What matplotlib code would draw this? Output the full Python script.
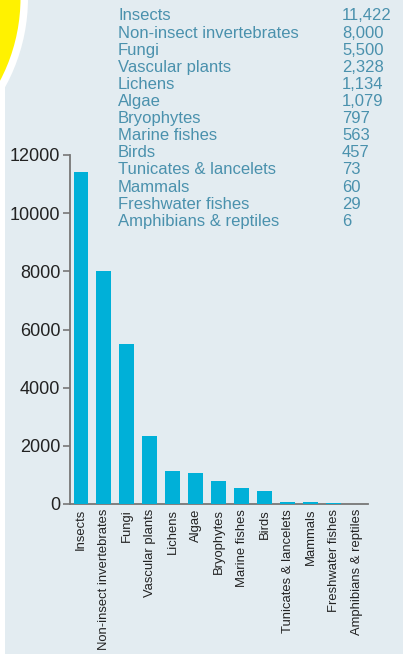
import matplotlib.pyplot as plt
from matplotlib.patches import Rectangle, Circle

# species counts
groups = ["Insects", "Non-insect invertebrates", "Fungi", "Vascular plants",
          "Lichens", "Algae", "Bryophytes", "Marine fishes", "Birds",
          "Tunicates & lancelets", "Mammals", "Freshwater fishes",
          "Amphibians & reptiles"]
counts = [11422, 8000, 5500, 2328, 1134, 1079, 797, 563, 457, 73, 60, 29, 6]
count_labels = ["11,422", "8,000", "5,500", "2,328", "1,134", "1,079", "797",
                "563", "457", "73", "60", "29", "6"]
yticks = [0, 2000, 4000, 6000, 8000, 10000, 12000]

W, H = 403, 655
panel_col = "#e3ecf1"
bar_col = "#00b0d8"
text_col = "#4a91ad"
font = "Liberation Sans"

fig = plt.figure(figsize=(W / 100, H / 100), dpi=100)
fig.patch.set_facecolor("white")

# background in pixel coords
bg = fig.add_axes([0, 0, 1, 1])
bg.set_xlim(0, W)
bg.set_ylim(H, 0)
bg.axis("off")
bg.add_patch(Rectangle((5, 0), W - 5, 654, color=panel_col, lw=0))
bg.add_patch(Circle((-157, -2), 185, color="white", lw=0))
bg.add_patch(Circle((-157, -2), 177.5, color="#fff200", lw=0))

# listing at top right
for i in range(len(groups)):
    y = 20.5 + i * 17.1
    bg.text(118, y, groups[i], color=text_col, fontsize=12,
            family=font, va="baseline")
    bg.text(342, y, count_labels[i], color=text_col, fontsize=12,
            family=font, va="baseline")

ax = fig.add_axes([69.5 / W, 151 / H, (368 - 69.5) / W, 349 / H])
ax.patch.set_alpha(0)
ax.bar(range(len(groups)), counts, width=0.65, color=bar_col, zorder=3)
ax.set_xlim(-0.5, len(groups) - 0.5)
ax.set_ylim(0, 12000)
ax.set_yticks(yticks)
ax.set_yticklabels([str(v) for v in yticks], family=font, fontsize=13,
                   color="#222222")
ax.set_xticks(range(len(groups)))
ax.set_xticklabels(groups, rotation=90, family=font, fontsize=9.4,
                   color="#222222")
ax.tick_params(axis="x", length=0, pad=3.5)
ax.tick_params(axis="y", length=5, width=1.2, color="#777777", pad=1.5)
for s in ["top", "right"]:
    ax.spines[s].set_visible(False)
for s in ["left", "bottom"]:
    ax.spines[s].set_color("#777777")
    ax.spines[s].set_linewidth(1.3)

fig.savefig("out.png", dpi=100)
